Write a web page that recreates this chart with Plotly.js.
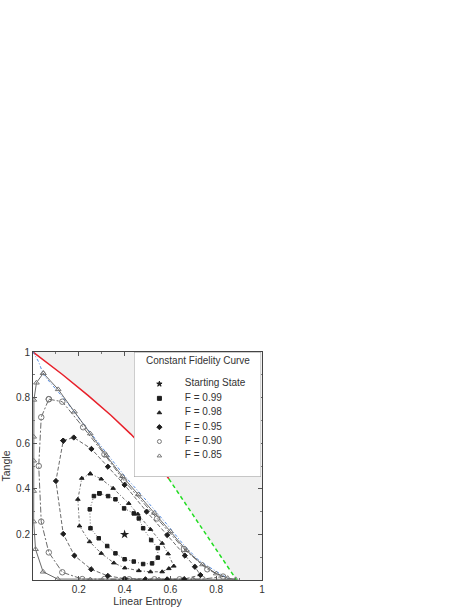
<!DOCTYPE html>
<html>
<head>
<meta charset="utf-8">
<script src="https://cdn.plot.ly/plotly-3.0.1.min.js"></script>
<style>
  html, body { margin: 0; padding: 0; background: #fff; }
  #chart { width: 469px; height: 607px; }
</style>
</head>
<body>
<div id="chart"></div>
<script>
// boundary of the allowed region (red part, then green dashed part)
const bound_red_x = [0, 0.127, 0.24, 0.34, 0.427, 0.5, 0.56, 0.593];
const bound_red_y = [1, 0.9025, 0.81, 0.7225, 0.64, 0.5625, 0.49, 0.444];
const bound_green_x = [0.593, 0.889];
const bound_green_y = [0.444, 0];

// blue dash-dot curve along the edge
const blue_x = [0, 0.024, 0.046, 0.09, 0.14, 0.213, 0.312, 0.397, 0.5, 0.58, 0.659, 0.72, 0.761, 0.826, 0.862];
const blue_y = [1, 0.958, 0.9, 0.85, 0.79, 0.694, 0.57, 0.46, 0.343, 0.25, 0.153, 0.09, 0.062, 0.022, 0];

// starting state
const start_x = [0.4];
const start_y = [0.2];

// constant fidelity curves
const f99_x = [0.29, 0.328, 0.36, 0.398, 0.44, 0.462, 0.481, 0.516, 0.545, 0.545, 0.52, 0.481, 0.44, 0.40, 0.36, 0.324, 0.287, 0.251, 0.248, 0.266, 0.29];
const f99_y = [0.38, 0.368, 0.354, 0.314, 0.292, 0.27, 0.227, 0.175, 0.14, 0.098, 0.073, 0.07, 0.081, 0.091, 0.117, 0.149, 0.183, 0.227, 0.31, 0.368, 0.38];

const f98_x = [0.25, 0.298, 0.35, 0.418, 0.458, 0.513, 0.564, 0.59, 0.615, 0.593, 0.564, 0.513, 0.462, 0.401, 0.353, 0.298, 0.247, 0.203, 0.196, 0.213, 0.25];
const f98_y = [0.466, 0.443, 0.402, 0.336, 0.289, 0.222, 0.161, 0.115, 0.061, 0.05, 0.036, 0.036, 0.041, 0.053, 0.075, 0.117, 0.168, 0.237, 0.354, 0.446, 0.466];

const f95_x = [0.132, 0.178, 0.255, 0.327, 0.4, 0.496, 0.586, 0.663, 0.707, 0.731, 0.66, 0.586, 0.491, 0.4, 0.327, 0.254, 0.181, 0.132, 0.1, 0.132];
const f95_y = [0.611, 0.625, 0.575, 0.497, 0.417, 0.3, 0.197, 0.107, 0.058, 0.022, 0.004, 0.003, 0.003, 0.006, 0.018, 0.047, 0.107, 0.202, 0.434, 0.611];

const f90_x = [0.069, 0.128, 0.219, 0.312, 0.397, 0.542, 0.659, 0.761, 0.83, 0.74, 0.64, 0.53, 0.42, 0.312, 0.215, 0.128, 0.069, 0.036, 0.025, 0.036, 0.069];
const f90_y = [0.793, 0.782, 0.67, 0.551, 0.436, 0.27, 0.136, 0.047, 0.015, 0.004, 0.003, 0.003, 0.003, 0.004, 0.004, 0.034, 0.121, 0.256, 0.5, 0.714, 0.793];

const f85_x = [0.045, 0.11, 0.181, 0.25, 0.32, 0.39, 0.46, 0.53, 0.60, 0.67, 0.74, 0.80, 0.85, 0.885, 0.70, 0.55, 0.40, 0.25, 0.108, 0.044, 0.011, 0.003, 0.003, 0.003, 0.003, 0.004, 0.015, 0.045];
const f85_y = [0.907, 0.836, 0.738, 0.642, 0.546, 0.455, 0.375, 0.294, 0.213, 0.13, 0.068, 0.028, 0.008, 0.003, 0.003, 0.002, 0.002, 0.002, 0.004, 0.036, 0.135, 0.256, 0.39, 0.523, 0.628, 0.79, 0.865, 0.907];

// legend rows
const legend_labels = ["Starting State", "F = 0.99", "F = 0.98", "F = 0.95", "F = 0.90", "F = 0.85"];
const legend_symbols = ["star", "square", "triangle-up", "diamond", "circle-open", "triangle-up-open"];
const legend_title = "Constant Fidelity Curve";

const curve_line = "#444";
const dark = "#1e1e1e";
const open_col = "#777";

const fidelity_trace = (x, y, dash, symbol, size, color) => ({
    x, y,
    mode: "lines+markers",
    type: "scatter",
    line: { color: curve_line, width: 0.8, dash },
    marker: { symbol, size, color, line: { width: 1, color } },
    hoverinfo: "skip",
});

const region_x = [...bound_red_x, ...bound_green_x.slice(1), 1, 1];
const region_y = [...bound_red_y, ...bound_green_y.slice(1), 0, 1];

const data = [
    {
        x: region_x, y: region_y,
        mode: "lines", type: "scatter", fill: "toself",
        fillcolor: "#f0f0f0", line: { width: 0 }, hoverinfo: "skip",
    },
    {
        x: bound_red_x, y: bound_red_y, mode: "lines", type: "scatter",
        line: { color: "#e8202a", width: 1.5 }, hoverinfo: "skip",
    },
    {
        x: bound_green_x, y: bound_green_y, mode: "lines", type: "scatter",
        line: { color: "#22dd22", width: 1.5, dash: "4px,3px" }, hoverinfo: "skip",
    },
    {
        x: blue_x, y: blue_y, mode: "lines", type: "scatter",
        line: { color: "#5b8fe0", width: 1, dash: "3px,2px,1px,2px" }, hoverinfo: "skip",
    },
    fidelity_trace(f85_x, f85_y, "solid", "triangle-up-open", 5, open_col),
    fidelity_trace(f90_x, f90_y, "6px,2px,2px,2px", "circle-open", 5.5, open_col),
    fidelity_trace(f95_x, f95_y, "4px,2px", "diamond", 4, dark),
    fidelity_trace(f98_x, f98_y, "3px,2px,1px,2px", "triangle-up", 4, dark),
    fidelity_trace(f99_x, f99_y, "1px,2px", "square", 3.5, dark),
    {
        x: start_x, y: start_y, mode: "markers", type: "scatter",
        marker: { symbol: "star", size: 7, color: dark }, hoverinfo: "skip",
    },
    // legend drawn on its own small axes
    {
        x: legend_labels.map(() => 0.2), y: legend_labels.map((_, i) => i),
        xaxis: "x2", yaxis: "y2",
        mode: "markers", type: "scatter",
        marker: {
            symbol: legend_symbols, size: 4,
            color: legend_symbols.map(s => s.endsWith("open") ? open_col : dark),
            line: { width: 1, color: legend_symbols.map(s => s.endsWith("open") ? open_col : dark) },
        },
        hoverinfo: "skip",
    },
    {
        x: legend_labels.map(() => 0.4), y: legend_labels.map((_, i) => i),
        xaxis: "x2", yaxis: "y2",
        mode: "text", type: "scatter",
        text: legend_labels, textposition: "middle right",
        textfont: { size: 10, color: "#333" },
        hoverinfo: "skip",
    },
];

const axis_common = {
    range: [0, 1],
    tickvals: [0.2, 0.4, 0.6, 0.8, 1],
    ticks: "inside", ticklen: 4, tickcolor: "#555",
    minor: { dtick: 0.1, ticks: "inside", ticklen: 2, tickcolor: "#777" },
    showline: true, linecolor: "#444", linewidth: 1, mirror: "ticks",
    showgrid: false, zeroline: false,
    tickfont: { size: 10, color: "#333" },
    automargin: false, fixedrange: true,
};

const layout = {
    width: 469, height: 607,
    margin: { l: 33, r: 207, t: 352, b: 27 },
    paper_bgcolor: "#fff", plot_bgcolor: "#fff",
    font: { family: "Liberation Sans, Arial, sans-serif", size: 10, color: "#333" },
    showlegend: false,
    xaxis: { ...axis_common, title: { text: "Linear Entropy", font: { size: 10.5 }, standoff: 2 } },
    yaxis: { ...axis_common, title: { text: "Tangle", font: { size: 10.5 }, standoff: 4 } },
    xaxis2: { domain: [0.441, 0.996], range: [0, 1], anchor: "y2", visible: false, fixedrange: true },
    yaxis2: { domain: [0.452, 1], range: [6.46, -2.22], anchor: "x2", visible: false, fixedrange: true },
    shapes: [
        {
            type: "rect", xref: "x2", yref: "y2", x0: 0, x1: 1, y0: -2.22, y1: 6.46,
            fillcolor: "#fff", line: { color: "#999", width: 1 }, layer: "below",
        },
    ],
    annotations: [
        {
            xref: "x2", yref: "y2", x: 0.5, y: -1.6, text: legend_title,
            showarrow: false, font: { size: 10, color: "#333" },
        },
    ],
};

Plotly.newPlot("chart", data, layout, { displayModeBar: false, staticPlot: true });
</script>
</body>
</html>
